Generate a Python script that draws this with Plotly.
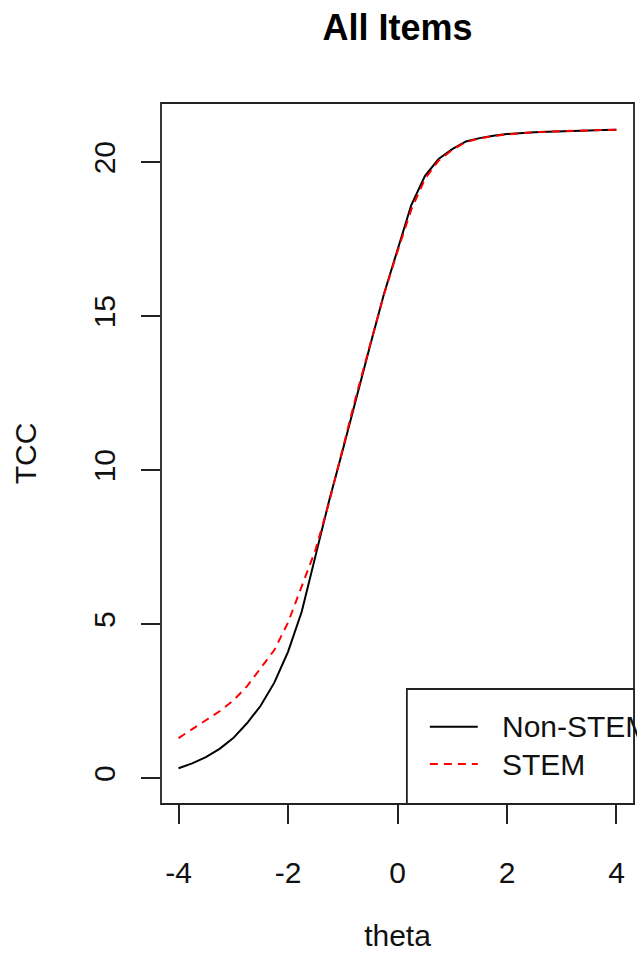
import plotly.graph_objects as go

# Test characteristic curves on a grid of ability values
theta = [-4.00, -3.75, -3.50, -3.25, -3.00, -2.75, -2.50, -2.25, -2.00,
         -1.75, -1.50, -1.25, -1.00, -0.75, -0.50, -0.25, 0.00,
         0.25, 0.50, 0.75, 1.00, 1.25, 1.50, 1.75, 2.00,
         2.25, 2.50, 2.75, 3.00, 3.25, 3.50, 3.75, 4.00]

tcc_non_stem = [0.32, 0.48, 0.68, 0.95, 1.30, 1.78, 2.35, 3.10, 4.10,
                5.40, 7.20, 9.00, 10.65, 12.39, 14.05, 15.70, 17.15,
                18.60, 19.55, 20.10, 20.42, 20.67, 20.78, 20.86, 20.91,
                20.95, 20.97, 20.99, 21.01, 21.02, 21.03, 21.04, 21.05]

tcc_stem = [1.30, 1.58, 1.88, 2.17, 2.52, 2.98, 3.56, 4.16, 5.05,
            6.22, 7.40, 8.95, 10.70, 12.45, 14.08, 15.68, 17.10,
            18.45, 19.45, 20.05, 20.40, 20.65, 20.77, 20.85, 20.90,
            20.94, 20.97, 20.99, 21.01, 21.02, 21.03, 21.04, 21.05]

x_ticks = [-4, -2, 0, 2, 4]
y_ticks = [0, 5, 10, 15, 20]
series_names = ["Non-STEM", "STEM"]

FONT = "Liberation Sans, Arial, sans-serif"
W, H = 637, 957
L, R, T, B = 160.7, 2.5, 103, 153

fig = go.Figure()
fig.add_trace(go.Scatter(x=theta, y=tcc_non_stem, mode="lines",
                         name=series_names[0],
                         line=dict(color="#000000", width=2)))
fig.add_trace(go.Scatter(x=theta, y=tcc_stem, mode="lines",
                         name=series_names[1],
                         line=dict(color="#ff0000", width=2, dash="8px,6px")))

axis_common = dict(showgrid=False, zeroline=False, showline=False,
                   automargin=False,
                   ticks="outside", ticklen=19, tickwidth=1.6,
                   tickcolor="#222222",
                   tickfont=dict(family=FONT, size=30, color="#111111"),
                   title_font=dict(family=FONT, size=30, color="#111111"))

fig.update_xaxes(range=[-4.32, 4.32], tickvals=x_ticks,
                 ticktext=[str(v) for v in x_ticks],
                 title_text="theta", title_standoff=36,
                 ticklabelstandoff=23, **axis_common)
fig.update_yaxes(range=[-0.84, 21.92], tickvals=y_ticks,
                 ticktext=[str(v) for v in y_ticks], tickangle=-90,
                 title_text="TCC", title_standoff=42,
                 ticklabelstandoff=14, **axis_common)

# Plot frame
fig.add_shape(type="rect", xref="paper", yref="paper", x0=0, x1=1, y0=0, y1=1,
              line=dict(color="#222222", width=1.8), fillcolor="rgba(0,0,0,0)",
              layer="above")

# Legend box in the lower right corner, cut off by the frame
pw = W - L - R
ph = H - T - B
def px_x(px):
    return (px - L) / pw
def px_y(py):
    return (H - B - py) / ph

fig.add_shape(type="rect", xref="paper", yref="paper",
              x0=px_x(407), x1=1, y0=0, y1=px_y(689),
              line=dict(color="#222222", width=1.8), fillcolor="white",
              layer="above")
legend_styles = [dict(color="#000000", width=2),
                 dict(color="#ff0000", width=2, dash="8px,6px")]
legend_rows = [726.7, 764]
for name, style, ry in zip(series_names, legend_styles, legend_rows):
    fig.add_shape(type="line", xref="paper", yref="paper",
                  x0=px_x(430), x1=px_x(478), y0=px_y(ry), y1=px_y(ry),
                  line=style, layer="above")
    fig.add_annotation(xref="paper", yref="paper", x=px_x(500), y=px_y(ry),
                       xanchor="left", yanchor="middle", text=name,
                       showarrow=False,
                       font=dict(family=FONT, size=30, color="#111111"))

fig.update_layout(
    width=W, height=H,
    margin=dict(l=L, r=R, t=T, b=B, pad=0),
    paper_bgcolor="white", plot_bgcolor="white",
    showlegend=False,
    title=dict(text="<b>All Items</b>", x=397.6 / W, xanchor="center",
               yref="container", y=1 - 27 / H, yanchor="middle",
               font=dict(family=FONT, size=36, color="#000000")),
)

fig.write_html("out.html")
